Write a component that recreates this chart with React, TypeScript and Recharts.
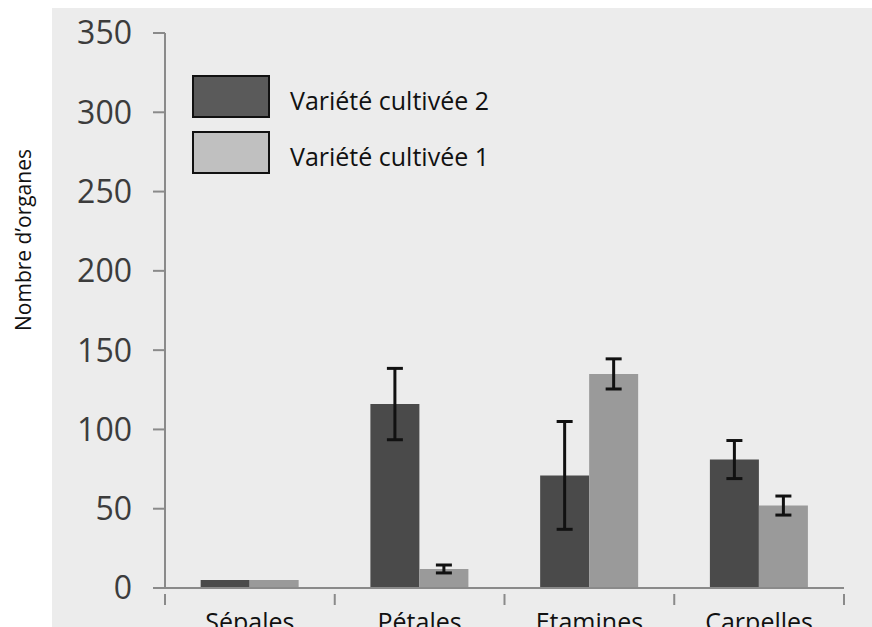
import React from "react";
import { BarChart, Bar, XAxis, YAxis, ErrorBar, Legend } from "recharts";

const categories = ["Sépales", "Pétales", "Etamines", "Carpelles"];
const variete2 = [5, 116, 71, 81];
const variete2Err = [null, 22.5, 34, 12];
const variete1 = [5, 12, 135, 52];
const variete1Err = [null, 2.5, 9.5, 6];
const yTicks = [0, 50, 100, 150, 200, 250, 300, 350];

const data = categories.map((name, i) => ({
  name,
  v2: variete2[i],
  v2err: variete2Err[i],
  v1: variete1[i],
  v1err: variete1Err[i],
}));

const FONT = "'Open Sans', sans-serif";
const AXIS = "#8a8a8a";

const legendItems = [
  { label: "Variété cultivée 2", color: "#5a5a5a" },
  { label: "Variété cultivée 1", color: "#c0c0c0" },
];

function CategoryTick(props: any) {
  const { x, y, payload, width, index, visibleTicksCount } = props;
  const band = width / visibleTicksCount;
  const axisY = y - 19;
  return (
    <g>
      <line x1={x - band / 2} y1={axisY} x2={x - band / 2} y2={axisY + 11} stroke={AXIS} strokeWidth={2} />
      {index === visibleTicksCount - 1 && (
        <line x1={x + band / 2} y1={axisY} x2={x + band / 2} y2={axisY + 11} stroke={AXIS} strokeWidth={2} />
      )}
      <text x={x} y={y} dy="0.71em" textAnchor="middle" fontSize={25} fill="#111" fontFamily={FONT}>
        {payload.value}
      </text>
    </g>
  );
}

function LegendBox() {
  return (
    <div style={{ fontFamily: FONT }}>
      {legendItems.map((it) => (
        <div key={it.label} style={{ display: "flex", alignItems: "center", height: 43, marginBottom: 13 }}>
          <div style={{ width: 74, height: 39, background: it.color, border: "2px solid #111" }} />
          <span style={{ marginLeft: 20, fontSize: 25, color: "#111", marginTop: 6 }}>{it.label}</span>
        </div>
      ))}
    </div>
  );
}

function YLabel() {
  return (
    <text
      x={23}
      y={240}
      transform="rotate(-90, 23, 240)"
      textAnchor="middle"
      dominantBaseline="central"
      fontSize={21}
      fill="#111"
      fontFamily={FONT}
    >
      Nombre d’organes
    </text>
  );
}

export default function App() {
  return (
    <div style={{ position: "absolute", left: 0, top: 0, width: 872, height: 627, background: "#fff", overflow: "hidden" }}>
      <div style={{ position: "absolute", left: 52, top: 8, right: 0, bottom: 0, background: "#ececec" }} />
      <div style={{ position: "absolute", left: 0, top: 0 }}>
        <BarChart
          width={872}
          height={627}
          data={data}
          margin={{ top: 33, right: 28, bottom: 9, left: 0 }}
          barCategoryGap="21%"
          barGap={0}
        >
          <XAxis
            dataKey="name"
            height={30}
            axisLine={{ stroke: AXIS, strokeWidth: 2 }}
            tickLine={false}
            tick={<CategoryTick />}
            tickMargin={19}
            interval={0}
          />
          <YAxis
            width={165}
            domain={[0, 350]}
            ticks={yTicks}
            interval={0}
            axisLine={{ stroke: AXIS, strokeWidth: 2 }}
            tickLine={{ stroke: AXIS, strokeWidth: 2 }}
            tickSize={12}
            tickMargin={21}
            tick={{ fontSize: 32, fill: "#3c3c3c", fontFamily: FONT }}
            label={<YLabel />}
          />
          <Legend
            layout="horizontal"
            verticalAlign="middle"
            align="center"
            wrapperStyle={{ left: 192, top: 75, width: 360 }}
            content={<LegendBox />}
          />
          <Bar dataKey="v2" name="Variété cultivée 2" fill="#4a4a4a" isAnimationActive={false}>
            <ErrorBar dataKey="v2err" width={8} stroke="#111" strokeWidth={3} direction="y" />
          </Bar>
          <Bar dataKey="v1" name="Variété cultivée 1" fill="#9a9a9a" isAnimationActive={false}>
            <ErrorBar dataKey="v1err" width={8} stroke="#111" strokeWidth={3} direction="y" />
          </Bar>
        </BarChart>
      </div>
    </div>
  );
}
